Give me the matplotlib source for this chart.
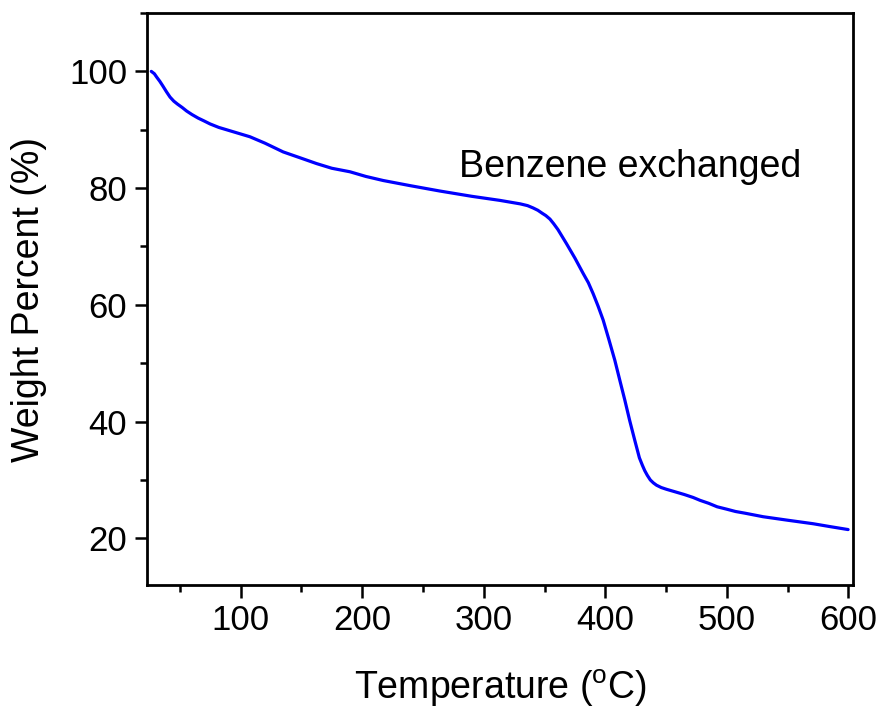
import matplotlib
matplotlib.use("Agg")
import matplotlib.pyplot as plt
from matplotlib.ticker import MultipleLocator

# TGA trace: temperature (°C) and remaining weight (%)
temperature = [26.5, 29, 31, 33.5, 36, 39, 41.9, 45, 48, 52, 55.6, 60, 65,
               70, 74.8, 82, 90, 98, 107.6, 120, 135, 148.8, 162.5, 175,
               189.9, 203, 217.3, 240, 263.9, 290, 313.2, 330, 336, 340.6,
               344.5, 348, 351, 354.4, 357.5, 361, 364.5, 368, 375, 381.7,
               386, 390, 394, 398.2, 403, 407.8, 412, 416, 420, 424.2, 428,
               430.5, 432.4, 434.5, 437, 439.5, 442.1, 446, 450.3, 458.5,
               465, 472.2, 478, 485, 492, 499.7, 507, 515, 529.8, 550, 570.9,
               585, 599.7]
weight = [100.0, 99.6, 99.0, 98.3, 97.5, 96.5, 95.6, 94.9, 94.4, 93.8, 93.2,
          92.6, 92.0, 91.5, 91.0, 90.4, 89.9, 89.4, 88.8, 87.7, 86.2, 85.2,
          84.2, 83.4, 82.8, 82.0, 81.3, 80.4, 79.5, 78.6, 77.9, 77.3, 77.0,
          76.6, 76.2, 75.7, 75.3, 74.7, 73.9, 72.9, 71.7, 70.5, 68.0, 65.4,
          63.8, 61.9, 59.8, 57.4, 54.0, 50.5, 47.0, 43.7, 40.2, 36.8, 33.8,
          32.5, 31.6, 30.8, 30.0, 29.5, 29.1, 28.7, 28.4, 27.9, 27.5, 27.0,
          26.5, 26.0, 25.4, 25.0, 24.6, 24.3, 23.7, 23.1, 22.5, 22.0, 21.5]

x_ticks = [100, 200, 300, 400, 500, 600]
y_ticks = [20, 40, 60, 80, 100]
annotation = "Benzene exchanged"

plt.rcParams['font.family'] = ['Liberation Sans', 'DejaVu Sans']

fig = plt.figure(figsize=(8.82, 7.11), dpi=100)
ax = fig.add_axes([0.1663, 0.1772, 0.8012, 0.8045])

ax.plot(temperature, weight, color='#0000FF', lw=2.3,
        solid_joinstyle='round', solid_capstyle='round')

ax.set_xlim(22.7, 604)
ax.set_ylim(12, 110)
ax.set_xticks(x_ticks)
ax.set_yticks(y_ticks)
ax.xaxis.set_minor_locator(MultipleLocator(50))
ax.yaxis.set_minor_locator(MultipleLocator(10))

ax.tick_params(which='major', direction='out', length=9, width=1.8,
               labelsize=25, pad=5)
ax.tick_params(which='minor', direction='out', length=5, width=1.8)
for s in ax.spines.values():
    s.set_linewidth(2.0)

ax.set_xlabel('Temperature ($\\mathregular{^{o}}$C)', fontsize=27, labelpad=22)
ax.set_ylabel('Weight Percent (%)', fontsize=27, labelpad=16)

ax.text(279.5, 81.9, annotation, fontsize=27, ha='left', va='baseline')

fig.savefig('out.png', dpi=100)
